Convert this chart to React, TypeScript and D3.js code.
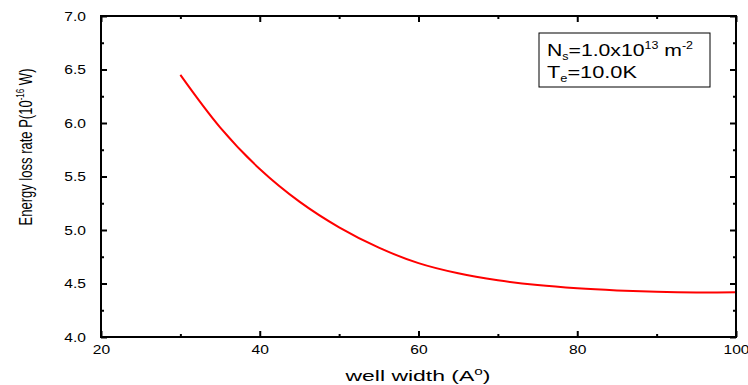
import React, { useEffect, useRef } from "react";
import * as d3 from "d3";

// well width (Angstrom) vs energy loss rate P (10^-16 W)
const wellWidth = [30, 35, 40, 45, 50, 55, 60, 65, 70, 75, 80, 85, 90, 95, 100];
const lossRate = [6.45, 5.96, 5.57, 5.265, 5.025, 4.835, 4.69, 4.595, 4.53, 4.485, 4.455, 4.435, 4.422, 4.416, 4.418];

const xMajor = [20, 40, 60, 80, 100];
const xMinor = [30, 50, 70, 90];
const yMajor = [4.0, 4.5, 5.0, 5.5, 6.0, 6.5, 7.0];
const yMinor = [4.25, 4.75, 5.25, 5.75, 6.25, 6.75];

const width = 748;
const height = 385;
const margin = { top: 16, right: 12, bottom: 48, left: 101 };
const font = "'Liberation Sans', Arial, sans-serif";
const sx = 1.2; // text in the figure is stretched sideways

const App = () => {
  const ref = useRef<SVGSVGElement>(null);

  const x = d3.scaleLinear().domain([20, 100]).range([margin.left, width - margin.right]);
  const y = d3.scaleLinear().domain([4, 7]).range([height - margin.bottom, margin.top]);

  useEffect(() => {
    const svg = d3.select(ref.current);
    svg.selectAll(".ax").remove();

    const x0 = margin.left;
    const x1 = width - margin.right;
    const y0 = height - margin.bottom;
    const y1 = margin.top;

    const add = (axis: any, tr: string) => {
      const g = svg.append("g").attr("class", "ax").attr("transform", tr).call(axis);
      g.select(".domain").remove();
      g.selectAll("line").attr("stroke", "#000").attr("stroke-width", 2);
      g.selectAll("text").attr("font-family", font).attr("font-size", 13).attr("fill", "#000");
      return g;
    };

    // bottom
    const gb = add(
      d3.axisBottom(x).tickValues(xMajor).tickSize(-6).tickPadding(8).tickFormat(d3.format("d")),
      `translate(0,${y0})`
    );
    gb.selectAll("text").attr("transform", `scale(${sx},1)`);
    add(d3.axisBottom(x).tickValues(xMinor).tickSize(-3).tickFormat(() => ""), `translate(0,${y0})`);
    // top
    add(d3.axisTop(x).tickValues(xMajor).tickSize(-6).tickFormat(() => ""), `translate(0,${y1})`);
    add(d3.axisTop(x).tickValues(xMinor).tickSize(-3).tickFormat(() => ""), `translate(0,${y1})`);
    // left
    const gl = add(
      d3.axisLeft(y).tickValues(yMajor).tickSize(-6).tickPadding(15).tickFormat(d3.format(".1f")),
      `translate(${x0},0)`
    );
    gl.selectAll("text").attr("x", -15 / sx).attr("transform", `scale(${sx},1)`);
    add(d3.axisLeft(y).tickValues(yMinor).tickSize(-3).tickFormat(() => ""), `translate(${x0},0)`);
    // right
    add(d3.axisRight(y).tickValues(yMajor).tickSize(-6).tickFormat(() => ""), `translate(${x1},0)`);
    add(d3.axisRight(y).tickValues(yMinor).tickSize(-3).tickFormat(() => ""), `translate(${x1},0)`);

    svg
      .append("rect")
      .attr("class", "ax")
      .attr("x", x0)
      .attr("y", y1)
      .attr("width", x1 - x0)
      .attr("height", y0 - y1)
      .attr("fill", "none")
      .attr("stroke", "#000")
      .attr("stroke-width", 2);
  }, []);

  const pts = wellWidth.map((w, i) => [w, lossRate[i]] as [number, number]);
  const line = d3
    .line<[number, number]>()
    .x((d) => x(d[0]))
    .y((d) => y(d[1]))
    .curve(d3.curveCatmullRom.alpha(0.5));

  return (
    <svg
      ref={ref}
      width={width}
      height={height}
      style={{ position: "absolute", left: 0, top: 0, background: "#fff" }}
    >
      <path d={line(pts) || ""} fill="none" stroke="#ff0000" strokeWidth={2} />

      <g fontFamily={font} fill="#000">
        <text
          x={418}
          y={381}
          fontSize={15}
          textAnchor="middle"
          textLength={145}
          lengthAdjust="spacingAndGlyphs"
        >
          well width (A<tspan dy={-6} fontSize={10}>o</tspan>
          <tspan dy={6}>)</tspan>
        </text>

        <text
          transform={`translate(32,147) scale(1.35,1) rotate(-90)`}
          fontSize={13}
          textAnchor="middle"
          textLength={157}
          lengthAdjust="spacingAndGlyphs"
        >
          Energy loss rate P(10<tspan dy={-6} fontSize={8}>-16</tspan>
          <tspan dy={6}> W)</tspan>
        </text>

        <rect x={539} y={33} width={171} height={54} fill="#fff" stroke="#000" strokeWidth={1} />
        <text x={547} y={56} fontSize={17} textLength={146} lengthAdjust="spacingAndGlyphs">
          N<tspan dy={4} fontSize={10}>s</tspan>
          <tspan dy={-4}>=1.0x10</tspan>
          <tspan dy={-7} fontSize={10}>13</tspan>
          <tspan dy={7}> m</tspan>
          <tspan dy={-7} fontSize={10}>-2</tspan>
        </text>
        <text x={547} y={78} fontSize={17} textLength={90} lengthAdjust="spacingAndGlyphs">
          T<tspan dy={4} fontSize={10}>e</tspan>
          <tspan dy={-4}>=10.0K</tspan>
        </text>
      </g>
    </svg>
  );
};

export default App;
